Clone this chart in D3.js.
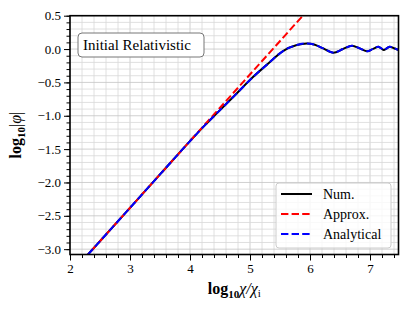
<!DOCTYPE html>
<html>
<head>
<meta charset="utf-8">
<script src="https://cdn.jsdelivr.net/npm/d3@7"></script>
<style>
  body { margin: 0; background: #fff; }
  svg { display: block; }
  text { font-family: "Liberation Serif", "DejaVu Serif", serif; fill: #000; }
</style>
</head>
<body>
<svg id="chart" width="415" height="311"></svg>
<script>
// log10(chi/chi_i) samples and log10|phi| values
var numX = [2.30, 3.00, 3.50, 4.00, 4.25, 4.45, 4.72, 5.05, 5.30, 5.55, 5.78, 5.95, 6.08, 6.22, 6.39, 6.55, 6.70, 6.83, 6.955, 7.05, 7.14, 7.185, 7.23, 7.28, 7.33, 7.40, 7.48];
var numY = [-3.08, -2.38, -1.88, -1.38, -1.14, -0.96, -0.72, -0.42, -0.22, -0.03, 0.06, 0.085, 0.065, 0.01, -0.055, 0.0, 0.05, 0.01, -0.034, 0.002, 0.035, 0.012, -0.015, 0.012, 0.035, 0.012, -0.015];
var analyticalX = numX;
var analyticalY = [-3.08, -2.38, -1.88, -1.38, -1.14, -0.96, -0.72, -0.42, -0.22, -0.03, 0.06, 0.085, 0.065, 0.01, -0.055, 0.0, 0.05, 0.01, -0.034, 0.002, 0.035, 0.012, -0.015, 0.012, 0.035, 0.012, -0.015];
var approxX = [2.0, 6.2];
var approxY = [-3.38, 0.82];

var xMajor = [2, 3, 4, 5, 6, 7];
var yMajor = [-3.0, -2.5, -2.0, -1.5, -1.0, -0.5, 0.0, 0.5];
var legendLabels = ['Num.', 'Approx.', 'Analytical'];
var legendColors = ['#000', '#ff0000', '#0000ff'];
var titleText = 'Initial Relativistic';

var svg = d3.select('#chart');
var pLeft = 70, pRight = 398.5, pTop = 15.7, pBottom = 254.5;

var x = d3.scaleLinear().domain([2, 7.475]).range([pLeft, pRight]);
var y = d3.scaleLinear().domain([-3.08, 0.5]).range([pBottom, pTop]);

// minor ticks
var xMinor = d3.range(2, 7.45, 0.2).map(function(d) { return +d.toFixed(1); });
var yMinor = d3.range(-3.0, 0.55, 0.1).map(function(d) { return +d.toFixed(1); });

// grid
var grid = svg.append('g');
grid.selectAll('.gx').data(xMinor).enter().append('line')
    .attr('x1', function(d) { return x(d); }).attr('x2', function(d) { return x(d); })
    .attr('y1', pTop).attr('y2', pBottom)
    .attr('stroke', function(d) { return xMajor.indexOf(d) >= 0 ? '#c4c4c4' : '#d8d8d8'; })
    .attr('stroke-width', 0.8);
grid.selectAll('.gy').data(yMinor).enter().append('line')
    .attr('y1', function(d) { return y(d); }).attr('y2', function(d) { return y(d); })
    .attr('x1', pLeft).attr('x2', pRight)
    .attr('stroke', function(d) { return yMajor.indexOf(d) >= 0 ? '#c4c4c4' : '#d8d8d8'; })
    .attr('stroke-width', 0.8);

// clip
svg.append('clipPath').attr('id', 'clip').append('rect')
    .attr('x', pLeft).attr('y', pTop).attr('width', pRight - pLeft).attr('height', pBottom - pTop);

var line = d3.line()
    .x(function(d) { return x(d[0]); })
    .y(function(d) { return y(d[1]); })
    .curve(d3.curveMonotoneX);

var plot = svg.append('g').attr('clip-path', 'url(#clip)');
plot.append('path')
    .attr('d', line(d3.zip(numX, numY)))
    .attr('fill', 'none').attr('stroke', legendColors[0]).attr('stroke-width', 2);
plot.append('path')
    .attr('d', line(d3.zip(approxX, approxY)))
    .attr('fill', 'none').attr('stroke', legendColors[1]).attr('stroke-width', 2)
    .attr('stroke-dasharray', '7.4,3.2');
plot.append('path')
    .attr('d', line(d3.zip(analyticalX, analyticalY)))
    .attr('fill', 'none').attr('stroke', legendColors[2]).attr('stroke-width', 2)
    .attr('stroke-dasharray', '7.4,3.2');

// axes
svg.append('g').attr('transform', 'translate(0,' + pBottom + ')')
    .call(d3.axisBottom(x).tickValues(xMajor).tickSize(6).tickPadding(3).tickFormat(d3.format('d')));
svg.append('g').attr('transform', 'translate(0,' + pBottom + ')')
    .call(d3.axisBottom(x).tickValues(xMinor).tickSize(3.5).tickFormat(''));
svg.append('g').attr('transform', 'translate(' + pLeft + ',0)')
    .call(d3.axisLeft(y).tickValues(yMajor).tickSize(6).tickPadding(3).tickFormat(d3.format('.1f')));
svg.append('g').attr('transform', 'translate(' + pLeft + ',0)')
    .call(d3.axisLeft(y).tickValues(yMinor).tickSize(3.5).tickFormat(''));
svg.selectAll('.domain').remove();
svg.selectAll('.tick line').attr('stroke', '#000').attr('stroke-width', 1);
svg.selectAll('.tick text').style('font-size', '13px').style('font-family', '"Liberation Serif", serif');

// frame
svg.append('rect')
    .attr('x', pLeft).attr('y', pTop).attr('width', pRight - pLeft).attr('height', pBottom - pTop)
    .attr('fill', 'none').attr('stroke', '#000').attr('stroke-width', 1.6);

// axis labels
var xl = svg.append('text').attr('x', (pLeft + pRight) / 2).attr('y', 294)
    .attr('text-anchor', 'middle').style('font-size', '16px').style('font-weight', 'bold');
xl.append('tspan').text('log');
xl.append('tspan').attr('dy', 4).style('font-size', '11px').text('10');
xl.append('tspan').attr('dy', -4).style('font-style', 'italic').style('font-weight', 'normal').text('χ/χ');
xl.append('tspan').attr('dy', 3).style('font-size', '11px').style('font-weight', 'normal').text('i');

var yl = svg.append('text')
    .attr('transform', 'translate(21,' + ((pTop + pBottom) / 2) + ') rotate(-90)')
    .attr('text-anchor', 'middle').style('font-size', '16px').style('font-weight', 'bold');
yl.append('tspan').text('log');
yl.append('tspan').attr('dy', 4).style('font-size', '11px').text('10');
yl.append('tspan').attr('dy', -4).style('font-weight', 'normal').text('|');
yl.append('tspan').style('font-style', 'italic').style('font-weight', 'normal').text('φ');
yl.append('tspan').style('font-weight', 'normal').text('|');

// title box
svg.append('rect').attr('x', 78).attr('y', 33).attr('width', 126).attr('height', 24).attr('rx', 4)
    .attr('fill', '#fff').attr('stroke', '#777').attr('stroke-width', 1);
svg.append('text').attr('x', 83).attr('y', 50).style('font-size', '15px').text(titleText);

// legend
var lg = svg.append('g');
lg.append('rect').attr('x', 276).attr('y', 183).attr('width', 115).attr('height', 65).attr('rx', 3)
    .attr('fill', '#fff').attr('fill-opacity', 0.8).attr('stroke', '#ccc').attr('stroke-width', 1);
legendLabels.forEach(function(lab, i) {
    var ly = 194 + i * 20;
    lg.append('line').attr('x1', 281).attr('x2', 312).attr('y1', ly).attr('y2', ly)
        .attr('stroke', legendColors[i]).attr('stroke-width', 2)
        .attr('stroke-dasharray', i === 0 ? null : '7.4,3.2');
    lg.append('text').attr('x', 323).attr('y', ly + 4.5).style('font-size', '14px').text(lab);
});
</script>
</body>
</html>
